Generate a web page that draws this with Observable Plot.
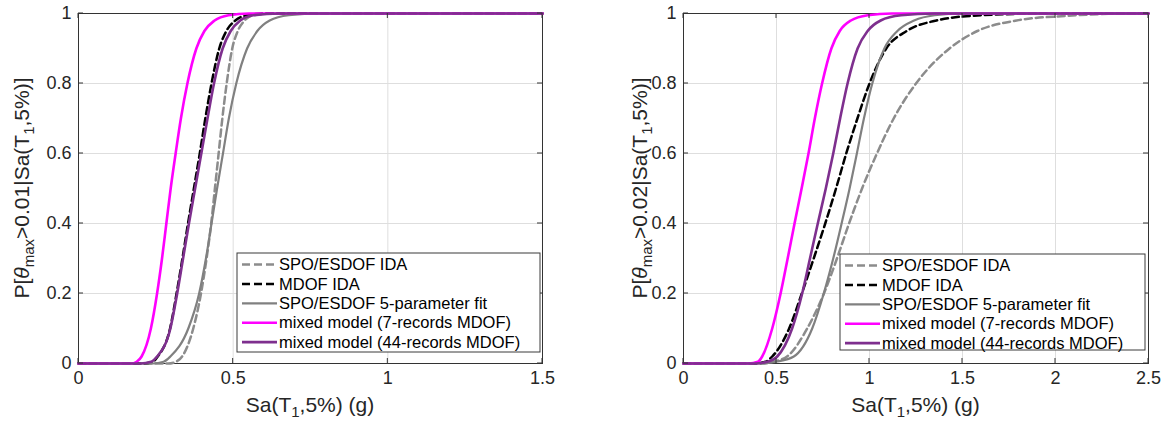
<!DOCTYPE html>
<html>
<head>
<meta charset="utf-8">
<script src="https://cdn.jsdelivr.net/npm/d3@7"></script>
<script src="https://cdn.jsdelivr.net/npm/@observablehq/plot@0.6"></script>
<style>
  body { margin: 0; background: white; }
  #wrap { display: flex; width: 1166px; height: 426px; }
</style>
</head>
<body>
<div id="wrap"></div>
<script>
// ---------- data ----------
const yTicks = [0, 0.2, 0.4, 0.6, 0.8, 1];
const leftXTicks = [0, 0.5, 1, 1.5];
const rightXTicks = [0, 0.5, 1, 1.5, 2, 2.5];
const legendLabels = [
  "SPO/ESDOF IDA",
  "MDOF IDA",
  "SPO/ESDOF 5-parameter fit",
  "mixed model (7-records MDOF)",
  "mixed model (44-records MDOF)"
];
const leftYLabel = ["P[", "θ", "max", ">0.01|Sa(T", "1", ",5%)]"];
const rightYLabel = ["P[", "θ", "max", ">0.02|Sa(T", "1", ",5%)]"];
const xLabelParts = ["Sa(T", "1", ",5%) (g)"];

// left panel: theta_max > 0.01  ([Sa, P] pairs)
const leftSpoIda = [[0,0],[0.29,0],[0.315,0.005],[0.335,0.02],[0.371,0.1],[0.396,0.2],[0.414,0.3],[0.429,0.4],[0.441,0.5],[0.453,0.6],[0.465,0.7],[0.479,0.8],[0.497,0.9],[0.515,0.95],[0.537,0.98],[0.565,0.995],[0.62,1],[1.5,1]];
const leftMdofIda = [[0,0],[0.21,0],[0.24,0.005],[0.256,0.02],[0.296,0.1],[0.317,0.2],[0.336,0.3],[0.354,0.4],[0.373,0.5],[0.392,0.6],[0.41,0.7],[0.43,0.8],[0.455,0.9],[0.478,0.95],[0.507,0.98],[0.545,0.995],[0.6,1],[1.5,1]];
const leftSpoFit = [[0,0],[0.24,0],[0.275,0.005],[0.297,0.02],[0.355,0.1],[0.39,0.2],[0.412,0.3],[0.43,0.4],[0.448,0.5],[0.467,0.6],[0.486,0.7],[0.51,0.8],[0.545,0.9],[0.578,0.95],[0.618,0.98],[0.68,0.995],[0.78,1],[1.5,1]];
const leftMixed7 = [[0,0],[0.17,0],[0.188,0.005],[0.204,0.02],[0.234,0.1],[0.254,0.2],[0.27,0.3],[0.284,0.4],[0.298,0.5],[0.314,0.6],[0.331,0.7],[0.352,0.8],[0.381,0.9],[0.407,0.95],[0.44,0.98],[0.485,0.995],[0.55,1],[1.5,1]];
const leftMixed44 = [[0,0],[0.2,0],[0.235,0.005],[0.254,0.02],[0.297,0.1],[0.319,0.2],[0.338,0.3],[0.357,0.4],[0.377,0.5],[0.397,0.6],[0.417,0.7],[0.438,0.8],[0.466,0.9],[0.492,0.95],[0.523,0.98],[0.565,0.995],[0.65,1],[1.5,1]];

// right panel: theta_max > 0.02
const rightSpoIda = [[0,0],[0.42,0],[0.48,0.005],[0.557,0.02],[0.665,0.1],[0.755,0.2],[0.825,0.3],[0.89,0.4],[0.96,0.5],[1.04,0.6],[1.13,0.7],[1.25,0.8],[1.43,0.9],[1.58,0.95],[1.79,0.98],[2.05,0.993],[2.4,1],[2.5,1]];
const rightMdofIda = [[0,0],[0.38,0],[0.44,0.005],[0.477,0.02],[0.568,0.1],[0.636,0.2],[0.7,0.3],[0.762,0.4],[0.82,0.5],[0.875,0.6],[0.935,0.7],[1.0,0.8],[1.09,0.9],[1.2,0.95],[1.36,0.98],[1.6,0.995],[1.95,1],[2.5,1]];
const rightSpoFit = [[0,0],[0.42,0],[0.5,0.005],[0.593,0.02],[0.692,0.1],[0.754,0.2],[0.805,0.3],[0.85,0.4],[0.893,0.5],[0.932,0.6],[0.97,0.7],[1.015,0.8],[1.08,0.9],[1.15,0.95],[1.24,0.98],[1.35,0.995],[1.5,1],[2.5,1]];
const rightMixed7 = [[0,0],[0.35,0],[0.4,0.005],[0.423,0.02],[0.477,0.1],[0.522,0.2],[0.56,0.3],[0.597,0.4],[0.635,0.5],[0.672,0.6],[0.706,0.7],[0.745,0.8],[0.795,0.9],[0.84,0.95],[0.9,0.98],[0.99,0.995],[1.12,1],[2.5,1]];
const rightMixed44 = [[0,0],[0.38,0],[0.45,0.005],[0.504,0.02],[0.584,0.1],[0.638,0.2],[0.68,0.3],[0.722,0.4],[0.765,0.5],[0.805,0.6],[0.842,0.7],[0.882,0.8],[0.936,0.9],[0.99,0.95],[1.06,0.98],[1.17,0.995],[1.35,1],[2.5,1]];

// ---------- styles ----------
const FONT = "'Liberation Sans', Arial, Helvetica, sans-serif";
const TXT = "#262626";
const seriesStyles = [
  {stroke: "#8c8c8c", strokeWidth: 2.5, dash: "7,4"},
  {stroke: "#000000", strokeWidth: 2.5, dash: "7,4"},
  {stroke: "#808080", strokeWidth: 2.2, dash: null},
  {stroke: "#ff00ff", strokeWidth: 2.6, dash: null},
  {stroke: "#7e2f8e", strokeWidth: 2.6, dash: null}
];

function makePanel(cfg) {
  const fmt = d => String(d);
  const lines = cfg.series.map((s, i) => Plot.line(s, {
    x: d => d[0], y: d => d[1],
    stroke: seriesStyles[i].stroke,
    strokeWidth: seriesStyles[i].strokeWidth,
    strokeDasharray: seriesStyles[i].dash || undefined,
    curve: "monotone-x"
  }));
  const svg = Plot.plot({
    width: cfg.width, height: 426,
    marginTop: 13, marginBottom: 63, marginLeft: cfg.ml, marginRight: cfg.mr,
    style: {fontFamily: FONT, fontSize: "18px", color: TXT, background: "white", overflow: "visible"},
    x: {domain: cfg.xDomain, label: null},
    y: {domain: [0, 1], label: null},
    marks: [
      Plot.gridX(cfg.xTicks, {stroke: "#dedede", strokeOpacity: 1, strokeWidth: 1}),
      Plot.gridY(yTicks, {stroke: "#dedede", strokeOpacity: 1, strokeWidth: 1}),
      Plot.frame({stroke: "#333333", strokeWidth: 1}),
      Plot.axisX(cfg.xTicks, {tickSize: 0, tickPadding: 8, tickFormat: fmt, label: null, fill: TXT}),
      Plot.axisY(yTicks, {tickSize: 0, tickPadding: 7, tickFormat: fmt, label: null, fill: TXT}),
      ...lines
    ]
  });
  const sx = svg.scale("x"), sy = svg.scale("y");
  const x0 = sx.apply(cfg.xDomain[0]), x1 = sx.apply(cfg.xDomain[1]);
  const y0 = sy.apply(0), y1 = sy.apply(1);
  const s = d3.select(svg);
  const g = s.append("g").attr("stroke", "#333333").attr("stroke-width", 1);
  const tl = 5;
  cfg.xTicks.forEach(t => {
    const x = sx.apply(t);
    g.append("line").attr("x1", x).attr("x2", x).attr("y1", y0).attr("y2", y0 - tl);
    g.append("line").attr("x1", x).attr("x2", x).attr("y1", y1).attr("y2", y1 + tl);
  });
  yTicks.forEach(t => {
    const y = sy.apply(t);
    g.append("line").attr("x1", x0).attr("x2", x0 + tl).attr("y1", y).attr("y2", y);
    g.append("line").attr("x1", x1).attr("x2", x1 - tl).attr("y1", y).attr("y2", y);
  });

  // x label
  const xl = s.append("text").attr("x", (x0 + x1) / 2).attr("y", 412)
    .attr("text-anchor", "middle").attr("fill", TXT)
    .style("font-family", FONT).style("font-size", "21px");
  xl.append("tspan").text(xLabelParts[0]);
  xl.append("tspan").attr("dy", 5).style("font-size", "15px").text(xLabelParts[1]);
  xl.append("tspan").attr("dy", -5).text(xLabelParts[2]);

  // y label
  const lab = cfg.yLabel;
  const yl = s.append("text")
    .attr("transform", `translate(${cfg.yLabelX},${(y0 + y1) / 2}) rotate(-90)`)
    .attr("text-anchor", "middle").attr("fill", TXT)
    .style("font-family", FONT).style("font-size", "21px");
  yl.append("tspan").text(lab[0]);
  yl.append("tspan").style("font-style", "italic").text(lab[1]);
  yl.append("tspan").attr("dy", 5).style("font-size", "15px").text(lab[2]);
  yl.append("tspan").attr("dy", -5).text(lab[3]);
  yl.append("tspan").attr("dy", 5).style("font-size", "15px").text(lab[4]);
  yl.append("tspan").attr("dy", -5).text(lab[5]);

  // legend
  const L = cfg.legend;
  const lg = s.append("g").attr("text-anchor", "start");
  lg.append("rect").attr("x", L.x).attr("y", L.y).attr("width", L.w).attr("height", L.h)
    .attr("fill", "white").attr("stroke", "#3a3a3a").attr("stroke-width", 1);
  legendLabels.forEach((name, i) => {
    const cy = L.y + 11.5 + i * 19.4;
    const st = seriesStyles[i];
    lg.append("line").attr("x1", L.x + 5).attr("x2", L.x + 40).attr("y1", cy).attr("y2", cy)
      .attr("stroke", st.stroke).attr("stroke-width", st.strokeWidth)
      .attr("stroke-dasharray", st.dash ? "8,4" : null);
    lg.append("text").attr("x", L.x + 42).attr("y", cy).attr("dy", "0.35em")
      .attr("text-anchor", "start")
      .attr("fill", "#000").style("font-family", FONT).style("font-size", "16.5px").text(name);
  });
  return svg;
}

const wrap = document.getElementById("wrap");
wrap.appendChild(makePanel({
  width: 583, ml: 78, mr: 41, xDomain: [0, 1.5], xTicks: leftXTicks,
  series: [leftSpoIda, leftMdofIda, leftSpoFit, leftMixed7, leftMixed44],
  yLabel: leftYLabel, yLabelX: 29,
  legend: {x: 237, y: 253, w: 303, h: 99}
}));
wrap.appendChild(makePanel({
  width: 583, ml: 100, mr: 18, xDomain: [0, 2.5], xTicks: rightXTicks,
  series: [rightSpoIda, rightMdofIda, rightSpoFit, rightMixed7, rightMixed44],
  yLabel: rightYLabel, yLabelX: 64,
  legend: {x: 257, y: 254, w: 305, h: 96}
}));
</script>
</body>
</html>
